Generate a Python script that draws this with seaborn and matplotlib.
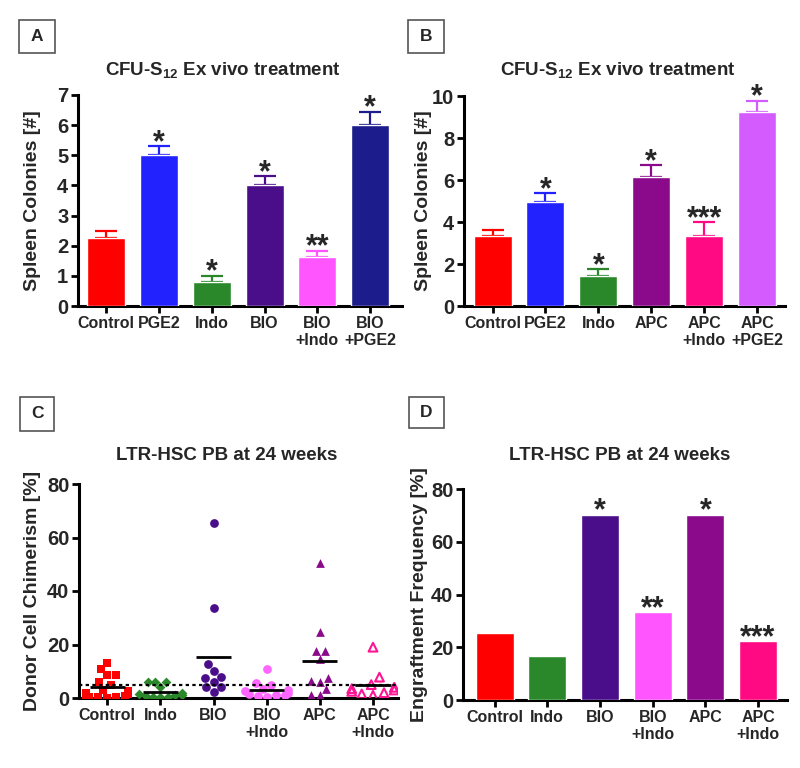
import numpy as np
import pandas as pd
import matplotlib
matplotlib.use("Agg")
import matplotlib.pyplot as plt
import seaborn as sns
from matplotlib.patches import Rectangle

# ---------------- data ----------------
# Panel A
a_groups = ["Control", "PGE2", "Indo", "BIO", "BIO\n+Indo", "BIO\n+PGE2"]
a_means = [2.27, 5.02, 0.78, 4.02, 1.63, 6.02]
a_sem = [0.23, 0.28, 0.22, 0.28, 0.20, 0.43]
a_stars = ["", "*", "*", "*", "**", "*"]
a_colors = ["#FF0000", "#2222FF", "#2A882A", "#4A0E8A", "#FF55FF", "#1C1C8C"]

# Panel B
b_groups = ["Control", "PGE2", "Indo", "APC", "APC\n+Indo", "APC\n+PGE2"]
b_means = [3.33, 4.93, 1.43, 6.15, 3.33, 9.23]
b_sem = [0.27, 0.45, 0.32, 0.55, 0.65, 0.55]
b_stars = ["", "*", "*", "*", "***", "*"]
b_colors = ["#FF0000", "#2222FF", "#2A882A", "#8B0A8B", "#FF0A82", "#D45CFF"]

# Panel C (individual chimerism values)
c_groups = ["Control", "Indo", "BIO", "BIO\n+Indo", "APC", "APC\n+Indo"]
c_control = [13.2, 10.8, 8.6, 8.5, 6.0, 4.8, 3.0, 2.5, 2.0, 1.5, 1.0, 0.8, 0.5, 0.3, 0.2, 0.1]
c_indo = [5.8, 5.8, 5.8, 4.0, 2.0, 1.5, 1.0, 1.0, 0.8, 0.5, 0.3, 0.2]
c_bio = [65.5, 33.5, 12.7, 10.0, 7.8, 7.5, 6.0, 4.2, 4.0, 2.3]
c_bio_indo = [10.7, 5.5, 5.0, 3.5, 3.0, 2.5, 2.0, 1.5, 1.2, 1.0, 0.8, 0.5]
c_apc = [50.5, 24.5, 17.6, 17.6, 14.6, 7.5, 6.5, 6.0, 3.5, 1.0, 1.0]
c_apc_indo = [19.0, 7.8, 5.0, 4.0, 3.5, 3.0, 2.5, 2.0, 1.5, 1.0]
c_values = [c_control, c_indo, c_bio, c_bio_indo, c_apc, c_apc_indo]
c_colors = ["#FF0000", "#2A882A", "#4A0E8A", "#FF66FF", "#8B0A8B", "#FF1493"]
c_markers = ["s", "D", "o", "o", "^", "^"]
c_open = [False, False, False, True, False, True]
c_threshold = 5

# Panel D
d_groups = ["Control", "Indo", "BIO", "BIO\n+Indo", "APC", "APC\n+Indo"]
d_values = [25.4, 16.8, 70.2, 33.4, 70.2, 22.4]
d_stars = ["", "", "*", "**", "*", "***"]
d_colors = ["#FF0000", "#2A882A", "#4A0E8A", "#FF55FF", "#8B0A8B", "#FF0A82"]

# ---------------- style ----------------
sns.set_style("ticks")
plt.rcParams["font.family"] = ["Liberation Sans", "DejaVu Sans"]
plt.rcParams["font.weight"] = "bold"
plt.rcParams["axes.labelweight"] = "bold"
plt.rcParams["mathtext.fontset"] = "custom"
for k in ["rm", "it", "bf", "sf"]:
    plt.rcParams["mathtext." + k] = "Liberation Sans:bold"

W, H = 800, 768
fig = plt.figure(figsize=(8, 7.68), dpi=100, facecolor="white")


def px_axes(x0, y_top, x1, y_bot):
    return fig.add_axes([x0 / W, 1 - y_bot / H, (x1 - x0) / W, (y_bot - y_top) / H])


def style_axes(ax, ylabel, label_x):
    sns.despine(ax=ax)
    for s in ["left", "bottom"]:
        ax.spines[s].set_linewidth(2.2)
        ax.spines[s].set_color("black")
    ax.tick_params(axis="both", width=2, length=5, color="black")
    ax.tick_params(axis="x", labelsize=11.5, pad=2)
    ax.tick_params(axis="y", labelsize=14.5, pad=2)
    for lab in ax.get_xticklabels() + ax.get_yticklabels():
        lab.set_fontweight("bold")
    ax.set_xlabel("")
    ax.set_ylabel(ylabel, fontsize=14, fontweight="bold")
    ax.yaxis.set_label_coords(label_x, 0.5)
    ax.set_facecolor("white")


def panel_letter(letter, x0, y0, x1, y1):
    fig.patches.append(Rectangle((x0 / W, 1 - y1 / H), (x1 - x0) / W, (y1 - y0) / H,
                                 transform=fig.transFigure, fill=False,
                                 edgecolor="#555555", linewidth=1.2))
    fig.text((x0 + x1) / 2 / W, 1 - (y0 + y1) / 2 / H, letter, ha="center", va="center",
             fontsize=12.5, fontweight="bold")


def bar_panel(ax, groups, means, colors, sem=None, stars=None):
    sns.barplot(x=groups, y=means, hue=groups, palette=colors, order=groups,
                hue_order=groups, legend=False, width=0.72, saturation=1,
                errorbar=None, ax=ax, zorder=3)
    tops = list(means)
    if sem is not None:
        for i, (m, s, c) in enumerate(zip(means, sem, colors)):
            ax.errorbar(i, m, yerr=[[0], [s]], fmt="none", ecolor=c, elinewidth=1.6,
                        capsize=8, capthick=1.6, zorder=2)
        tops = [m + s for m, s in zip(means, sem)]
    if stars is not None:
        for i, (t, st) in enumerate(zip(tops, stars)):
            if st:
                ax.annotate(st, xy=(i, t), xytext=(0, -3.5), textcoords="offset points",
                            ha="center", va="baseline", fontsize=22, fontweight="bold",
                            annotation_clip=False)


title_ex = r"CFU-S$_{12}$ Ex vivo treatment"
title_ltr = "LTR-HSC PB at 24 weeks"

# ---------------- Panel A ----------------
axA = px_axes(78, 95, 402, 306)
bar_panel(axA, a_groups, a_means, a_colors, a_sem, a_stars)
axA.set_ylim(0, 7)
axA.set_yticks(range(0, 8))
axA.set_xlim(-0.53, 5.6)
style_axes(axA, "Spleen Colonies [#]", -0.115)
fig.text(223 / W, 1 - 70 / H, title_ex, ha="center", va="center", fontsize=13.5, fontweight="bold")
panel_letter("A", 19, 20, 55, 53)

# ---------------- Panel B ----------------
axB = px_axes(464, 96, 785, 306)
bar_panel(axB, b_groups, b_means, b_colors, b_sem, b_stars)
axB.set_ylim(0, 10)
axB.set_yticks(range(0, 11, 2))
axB.set_xlim(-0.54, 5.53)
style_axes(axB, "Spleen Colonies [#]", -0.10)
fig.text(618 / W, 1 - 70 / H, title_ex, ha="center", va="center", fontsize=13.5, fontweight="bold")
panel_letter("B", 408, 20, 444, 53)

# ---------------- Panel C ----------------
axC = px_axes(79, 484, 398, 698)
for i, (g, vals, col, mk, op) in enumerate(zip(c_groups, c_values, c_colors, c_markers, c_open)):
    sns.swarmplot(x=[g] * len(vals), y=vals, order=c_groups, color=col, marker=mk,
                  size=5.0 if mk == "D" else 6.3, linewidth=0, ax=axC, zorder=3,
                  warn_thresh=1.0)
    coll = axC.collections[-1]
    if op:
        coll.set_facecolor("none")
        coll.set_edgecolor(col)
        coll.set_linewidth(1.5)
    axC.hlines(np.mean(vals), i - 0.33, i + 0.33, color="black", linewidth=2, zorder=5)
axC.axhline(c_threshold, color="black", linestyle=(0, (1.5, 1.5)), linewidth=1.6, zorder=4)
axC.set_ylim(0, 80)
axC.set_yticks(range(0, 81, 20))
axC.set_xlim(-0.53, 5.47)
style_axes(axC, "Donor Cell Chimerism [%]", -0.118)
fig.text(227 / W, 1 - 456 / H, title_ltr, ha="center", va="center", fontsize=13.5, fontweight="bold")
panel_letter("C", 20, 397, 54, 431)

# ---------------- Panel D ----------------
axD = px_axes(463, 489, 787, 700)
bar_panel(axD, d_groups, d_values, d_colors, None, d_stars)
axD.set_ylim(0, 80)
axD.set_yticks(range(0, 81, 20))
axD.set_xlim(-0.6, 5.55)
style_axes(axD, "Engraftment Frequency [%]", -0.108)
fig.text(620 / W, 1 - 456 / H, title_ltr, ha="center", va="center", fontsize=13.5, fontweight="bold")
panel_letter("D", 409, 397, 444, 428)

fig.savefig("out.png", dpi=100, facecolor="white")
